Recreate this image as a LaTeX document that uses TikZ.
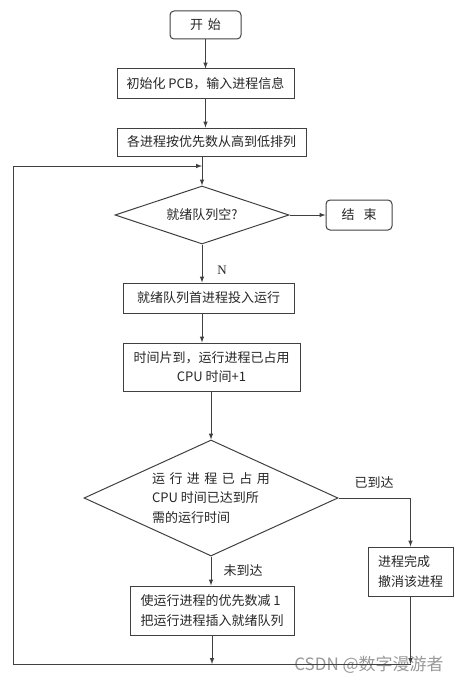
\documentclass[tikz,border=0pt]{standalone}
\usepackage{fontspec}
\setmainfont{Liberation Serif}
\newfontfamily\cjk{Noto Sans CJK SC}
\usetikzlibrary{shapes.geometric}
\usetikzlibrary{positioning}

\begin{document}
\begin{tikzpicture}[x=1pt, y=-1pt,
		every node/.style={font=\cjk\fontsize{13pt}{19.5pt}\selectfont, text=black!85},
		box/.style={rectangle, draw=black!75, line width=1pt, inner sep=0pt},
		tbox/.style={box, rounded corners=4pt},
		cond/.style={diamond, draw=black!75, line width=1pt, inner sep=0pt},
		flow/.style={draw=black!75, line width=1pt, -latex}]
			\useasboundingbox (0, 0) rectangle (470, 685);
			\node at (205.5, 25) [tbox, minimum width=71pt, minimum height=28pt] (start) {开\hspace{5pt}始};
			\node at (205.5, 83.5) [box, minimum width=177pt, minimum height=29pt] (init) {初始化 PCB，输入进程信息};
			\node at (211.5, 142) [box, minimum width=189pt, minimum height=28pt] (sort) {各进程按优先数从高到低排列};
			\node at (202, 215) [cond, aspect=3, minimum width=174pt, minimum height=58pt] (empty) {就绪队列空?};
			\node at (359, 215) [tbox, minimum width=66pt, minimum height=30pt] (stop) {结\hspace{9pt}束};
			\node at (208.5, 298) [box, minimum width=171pt, minimum height=30pt] (run) {就绪队列首进程投入运行};
			\node at (211.5, 367) [box, minimum width=177pt, minimum height=48pt, align=center] (slice) {时间片到，运行进程已占用\\CPU 时间+1};
			\node at (211, 498) [cond, aspect=2.2, minimum width=254pt, minimum height=116pt, align=left] (reach) {运\hspace{4.5pt}行\hspace{4.5pt}进\hspace{4.5pt}程\hspace{4.5pt}已\hspace{4.5pt}占\hspace{4.5pt}用\\CPU 时间已达到所\\需的运行时间};
			\node at (410.5, 571.5) [box, minimum width=85pt, minimum height=49pt, align=left] (finish) {进程完成\\撤消该进程};
			\node at (212, 610.5) [box, minimum width=164pt, minimum height=49pt, align=left] (dec) {使运行进程的优先数减 1\\把运行进程插入就绪队列};
			% labels
			\node at (222, 270) [font=\fontsize{13pt}{15pt}\selectfont] (nlab) {N};
			\node at (374, 482) [] (yeslab) {已到达};
			\node at (243, 571) [] (nolab) {未到达};
			\node at (369, 665) [text=black!40, font=\cjk\fontsize{17pt}{19pt}\selectfont] (mark) {CSDN @数字漫游者};
			% loop corners
			\coordinate (bl) at (13, 664);
			\coordinate (tl) at (13, 166);
			\draw [flow] (start) -- (init);
			\draw [flow] (init.south) -- (init.south |- sort.north);
			\draw [flow] (empty.north |- sort.south) -- (empty.north);
			\draw [flow] (empty.east) -- (stop.west);
			\draw [flow] (empty.south) -- (empty.south |- run.north);
			\draw [flow] (empty.south |- run.south) -- (empty.south |- slice.north);
			\draw [flow] (reach.north |- slice.south) -- (reach.north);
			\draw [flow] (reach.east) -| (finish.north);
			\draw [flow] (reach.south) -- (reach.south |- dec.north);
			\draw [flow] (dec.south) -- (dec.south |- bl);
			\draw [flow] (finish.south) -- (finish.south |- bl);
			\draw [flow] (finish.south |- bl) -- (bl) -- (tl) -- (tl -| empty.north);
		\end{tikzpicture}
\end{document}
